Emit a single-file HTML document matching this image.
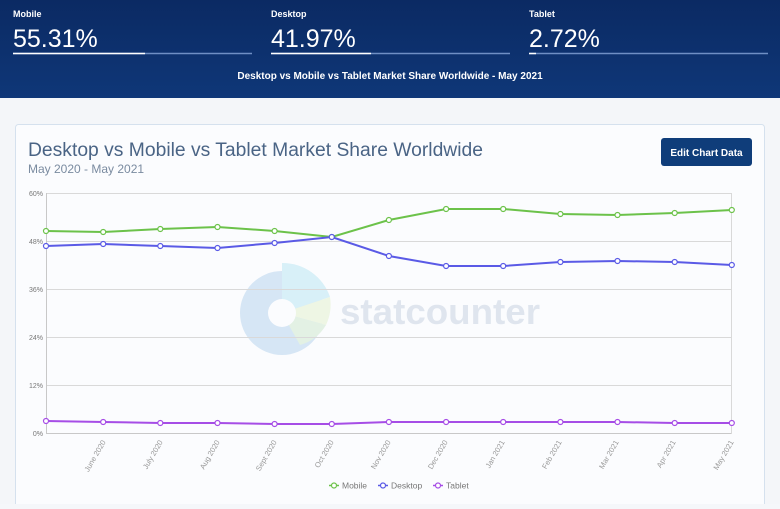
<!DOCTYPE html>
<html><head><meta charset="utf-8"><style>
body{margin:0;width:780px;height:504px;overflow:hidden;background:#f5f7fa;font-family:"Liberation Sans",sans-serif}
</style></head><body>
<svg width="780" height="504" xmlns="http://www.w3.org/2000/svg" font-family="Liberation Sans, sans-serif">
<defs><linearGradient id="hd" x1="0" y1="0" x2="0" y2="1"><stop offset="0" stop-color="#0b2a63"/><stop offset="1" stop-color="#0f3778"/></linearGradient></defs>
<rect x="0" y="0" width="780" height="98" fill="url(#hd)"/>
<rect x="0" y="98" width="780" height="406" fill="#f4f6f9"/>
<g fill="#fff">
<text x="13" y="17" font-size="9" font-weight="bold">Mobile</text>
<text x="13" y="47" font-size="25" font-weight="300">55.31%</text>
<text x="271" y="17" font-size="9" font-weight="bold">Desktop</text>
<text x="271" y="47" font-size="25" font-weight="300">41.97%</text>
<text x="529" y="17" font-size="9" font-weight="bold">Tablet</text>
<text x="529" y="47" font-size="25" font-weight="300">2.72%</text>
<text x="390" y="79" font-size="10" font-weight="bold" text-anchor="middle">Desktop vs Mobile vs Tablet Market Share Worldwide - May 2021</text>
</g>
<g stroke-width="1.5"><line x1="13" y1="53.5" x2="252" y2="53.5" stroke="#6f8fc4"/><line x1="13" y1="53.5" x2="145" y2="53.5" stroke="#fff"/>
<line x1="271" y1="53.5" x2="510" y2="53.5" stroke="#6f8fc4"/><line x1="271" y1="53.5" x2="371" y2="53.5" stroke="#fff"/>
<line x1="529" y1="53.5" x2="768" y2="53.5" stroke="#6f8fc4"/><line x1="529" y1="53.5" x2="536" y2="53.5" stroke="#fff"/></g>
<rect x="15.5" y="124.5" width="749" height="390" rx="3" fill="#fbfcfe" stroke="#d5e1ee"/>
<text x="28" y="156" font-size="19" fill="#4a6485" textLength="455" lengthAdjust="spacingAndGlyphs">Desktop vs Mobile vs Tablet Market Share Worldwide</text>
<text x="28" y="173" font-size="12" fill="#7a8ba0">May 2020 - May 2021</text>
<rect x="661" y="138" width="91" height="28" rx="3" fill="#0f3d7a"/>
<text x="706.5" y="156" font-size="10" fill="#fff" font-weight="bold" text-anchor="middle">Edit Chart Data</text>
<circle cx="282" cy="313" r="42" fill="#d6e6f5"/>
<path d="M282,313 L282,263 A50,50 0 0 1 330,297 Z" fill="#d8f0f8"/>
<path d="M282,313 L330,297 A48,48 0 0 1 326,325 Z" fill="#eef6e4"/>
<path d="M282,313 L326,325 A44,44 0 0 1 300,345 Z" fill="#e3f1e4"/>
<circle cx="282" cy="313" r="14" fill="#fbfcfe"/>
<text x="340" y="324" font-size="36" font-weight="bold" fill="#dfe5ee" textLength="200" lengthAdjust="spacingAndGlyphs">statcounter</text>
<g stroke="#d9d9d9" stroke-width="1">
<line x1="46" y1="193.5" x2="732" y2="193.5"/><line x1="46" y1="241.5" x2="732" y2="241.5"/><line x1="46" y1="289.5" x2="732" y2="289.5"/><line x1="46" y1="337.5" x2="732" y2="337.5"/><line x1="46" y1="385.5" x2="732" y2="385.5"/>
<line x1="46" y1="433.5" x2="732" y2="433.5" stroke="#c8c8c8"/>
<line x1="46.5" y1="193" x2="46.5" y2="434" stroke="#c8c8c8"/><line x1="731.5" y1="193" x2="731.5" y2="434"/>
</g>
<g font-size="7" fill="#777" text-anchor="end">
<text x="43" y="196">60%</text><text x="43" y="244">48%</text><text x="43" y="292">36%</text><text x="43" y="340">24%</text><text x="43" y="388">12%</text><text x="43" y="436">0%</text>
</g>
<g font-size="7.5" fill="#999" text-anchor="end">
<text transform="translate(106,442) rotate(-60)">June 2020</text>
<text transform="translate(163,442) rotate(-60)">July 2020</text>
<text transform="translate(220,442) rotate(-60)">Aug 2020</text>
<text transform="translate(277,442) rotate(-60)">Sept 2020</text>
<text transform="translate(334,442) rotate(-60)">Oct 2020</text>
<text transform="translate(391,442) rotate(-60)">Nov 2020</text>
<text transform="translate(448,442) rotate(-60)">Dec 2020</text>
<text transform="translate(505,442) rotate(-60)">Jan 2021</text>
<text transform="translate(562,442) rotate(-60)">Feb 2021</text>
<text transform="translate(619,442) rotate(-60)">Mar 2021</text>
<text transform="translate(676,442) rotate(-60)">Apr 2021</text>
<text transform="translate(734,442) rotate(-60)">May 2021</text>
</g>
<g fill="none" stroke-width="2">
<polyline stroke="#6cc24a" points="46,231 103.2,232 160.3,229 217.5,227 274.6,231 331.8,237 388.9,220 446.1,209 503.2,209 560.4,214 617.5,215 674.7,213 731.8,210"/>
<polyline stroke="#5a5ae6" points="46,246 103.2,244 160.3,246 217.5,248 274.6,243 331.8,237 388.9,256 446.1,266 503.2,266 560.4,262 617.5,261 674.7,262 731.8,265"/>
<polyline stroke="#a64de6" points="46,421 103.2,422 160.3,423 217.5,423 274.6,424 331.8,424 388.9,422 446.1,422 503.2,422 560.4,422 617.5,422 674.7,423 731.8,423"/>
</g>
<g fill="#fff" stroke-width="1.2">
<g stroke="#6cc24a"><circle cx="46" cy="231" r="2.5"/><circle cx="103.2" cy="232" r="2.5"/><circle cx="160.3" cy="229" r="2.5"/><circle cx="217.5" cy="227" r="2.5"/><circle cx="274.6" cy="231" r="2.5"/><circle cx="331.8" cy="237" r="2.5"/><circle cx="388.9" cy="220" r="2.5"/><circle cx="446.1" cy="209" r="2.5"/><circle cx="503.2" cy="209" r="2.5"/><circle cx="560.4" cy="214" r="2.5"/><circle cx="617.5" cy="215" r="2.5"/><circle cx="674.7" cy="213" r="2.5"/><circle cx="731.8" cy="210" r="2.5"/></g>
<g stroke="#5a5ae6"><circle cx="46" cy="246" r="2.5"/><circle cx="103.2" cy="244" r="2.5"/><circle cx="160.3" cy="246" r="2.5"/><circle cx="217.5" cy="248" r="2.5"/><circle cx="274.6" cy="243" r="2.5"/><circle cx="331.8" cy="237" r="2.5"/><circle cx="388.9" cy="256" r="2.5"/><circle cx="446.1" cy="266" r="2.5"/><circle cx="503.2" cy="266" r="2.5"/><circle cx="560.4" cy="262" r="2.5"/><circle cx="617.5" cy="261" r="2.5"/><circle cx="674.7" cy="262" r="2.5"/><circle cx="731.8" cy="265" r="2.5"/></g>
<g stroke="#a64de6"><circle cx="46" cy="421" r="2.5"/><circle cx="103.2" cy="422" r="2.5"/><circle cx="160.3" cy="423" r="2.5"/><circle cx="217.5" cy="423" r="2.5"/><circle cx="274.6" cy="424" r="2.5"/><circle cx="331.8" cy="424" r="2.5"/><circle cx="388.9" cy="422" r="2.5"/><circle cx="446.1" cy="422" r="2.5"/><circle cx="503.2" cy="422" r="2.5"/><circle cx="560.4" cy="422" r="2.5"/><circle cx="617.5" cy="422" r="2.5"/><circle cx="674.7" cy="423" r="2.5"/><circle cx="731.8" cy="423" r="2.5"/></g>
</g>
<g font-size="8.5" fill="#777">
<line x1="329" y1="485.5" x2="339" y2="485.5" stroke="#6cc24a" stroke-width="1.5"/><circle cx="334" cy="485.5" r="2.5" fill="#fff" stroke="#6cc24a" stroke-width="1.2"/><text x="342" y="488.5">Mobile</text>
<line x1="378" y1="485.5" x2="388" y2="485.5" stroke="#5a5ae6" stroke-width="1.5"/><circle cx="383" cy="485.5" r="2.5" fill="#fff" stroke="#5a5ae6" stroke-width="1.2"/><text x="391" y="488.5">Desktop</text>
<line x1="433" y1="485.5" x2="443" y2="485.5" stroke="#a64de6" stroke-width="1.5"/><circle cx="438" cy="485.5" r="2.5" fill="#fff" stroke="#a64de6" stroke-width="1.2"/><text x="446" y="488.5">Tablet</text>
</g>
</svg>
</body></html>
